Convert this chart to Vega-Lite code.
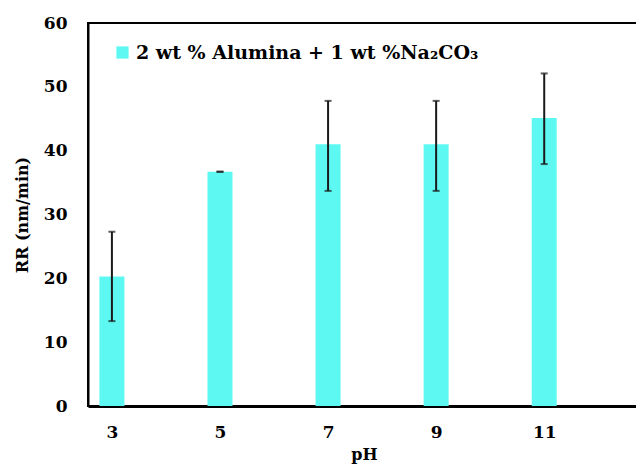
{
  "$schema": "https://vega.github.io/schema/vega-lite/v6.json",
  "autosize": {"type": "none"},
  "padding": {"left": 88, "top": 23, "right": 0, "bottom": 61},
  "width": 552,
  "height": 383,
  "background": "white",
  "config": {
    "font": "DejaVu Serif",
    "view": {"stroke": "black", "strokeWidth": 2}
  },
  "data": {
    "values": [
      {"pH": 3, "RR": 20.3, "lo": 13.3, "hi": 27.3, "series": "2 wt % Alumina + 1 wt %Na₂CO₃"},
      {"pH": 5, "RR": 36.7, "lo": 36.7, "hi": 36.7, "series": "2 wt % Alumina + 1 wt %Na₂CO₃"},
      {"pH": 7, "RR": 41.0, "lo": 33.7, "hi": 47.8, "series": "2 wt % Alumina + 1 wt %Na₂CO₃"},
      {"pH": 9, "RR": 41.0, "lo": 33.7, "hi": 47.8, "series": "2 wt % Alumina + 1 wt %Na₂CO₃"},
      {"pH": 11, "RR": 45.1, "lo": 37.9, "hi": 52.1, "series": "2 wt % Alumina + 1 wt %Na₂CO₃"}
    ]
  },
  "layer": [
    {
      "mark": {"type": "bar", "width": 25, "opacity": 1},
      "encoding": {
        "x": {
          "field": "pH", "type": "quantitative",
          "scale": {"domain": [2.65, 12.68], "nice": false, "zero": false},
          "axis": {
            "values": [3, 5, 7, 9, 11], "grid": false, "ticks": false,
            "domainColor": "black", "domainWidth": 3,
            "labelFont": "DejaVu Serif", "labelFontWeight": "bold", "labelFontSize": 17, "labelColor": "black",
            "labelPadding": 18, "labelFlush": false,
            "title": "pH", "titleFont": "DejaVu Serif", "titleFontWeight": "bold", "titleFontSize": 16, "titleColor": "black",
            "titlePadding": 6
          }
        },
        "y": {
          "field": "RR", "type": "quantitative",
          "scale": {"domain": [0, 60], "nice": false},
          "axis": {
            "values": [0, 10, 20, 30, 40, 50, 60], "grid": false, "ticks": false,
            "domainColor": "black", "domainWidth": 2,
            "labelFont": "DejaVu Serif", "labelFontWeight": "bold", "labelFontSize": 17, "labelColor": "black",
            "labelPadding": 21,
            "title": "RR (nm/min)", "titleFont": "DejaVu Serif", "titleFontWeight": "bold", "titleFontSize": 16, "titleColor": "black",
            "titlePadding": 13
          }
        },
        "color": {
          "field": "series", "type": "nominal",
          "scale": {"range": ["#5EF8F3"]},
          "legend": {
            "title": null, "orient": "none", "legendX": 25, "legendY": 20,
            "symbolType": "square", "symbolSize": 150, "symbolStrokeWidth": 0,
            "labelFont": "DejaVu Serif", "labelFontWeight": "bold", "labelFontSize": 19, "labelColor": "black",
            "labelLimit": 600, "labelOffset": 4
          }
        }
      }
    },
    {
      "mark": {"type": "rule", "color": "#1a1a1a", "strokeWidth": 2},
      "encoding": {
        "x": {"field": "pH", "type": "quantitative"},
        "y": {"field": "lo", "type": "quantitative"},
        "y2": {"field": "hi"}
      }
    },
    {
      "mark": {"type": "tick", "color": "#1a1a1a", "orient": "horizontal", "size": 7, "thickness": 2},
      "encoding": {
        "x": {"field": "pH", "type": "quantitative"},
        "y": {"field": "lo", "type": "quantitative"}
      }
    },
    {
      "mark": {"type": "tick", "color": "#1a1a1a", "orient": "horizontal", "size": 7, "thickness": 2},
      "encoding": {
        "x": {"field": "pH", "type": "quantitative"},
        "y": {"field": "hi", "type": "quantitative"}
      }
    }
  ]
}
